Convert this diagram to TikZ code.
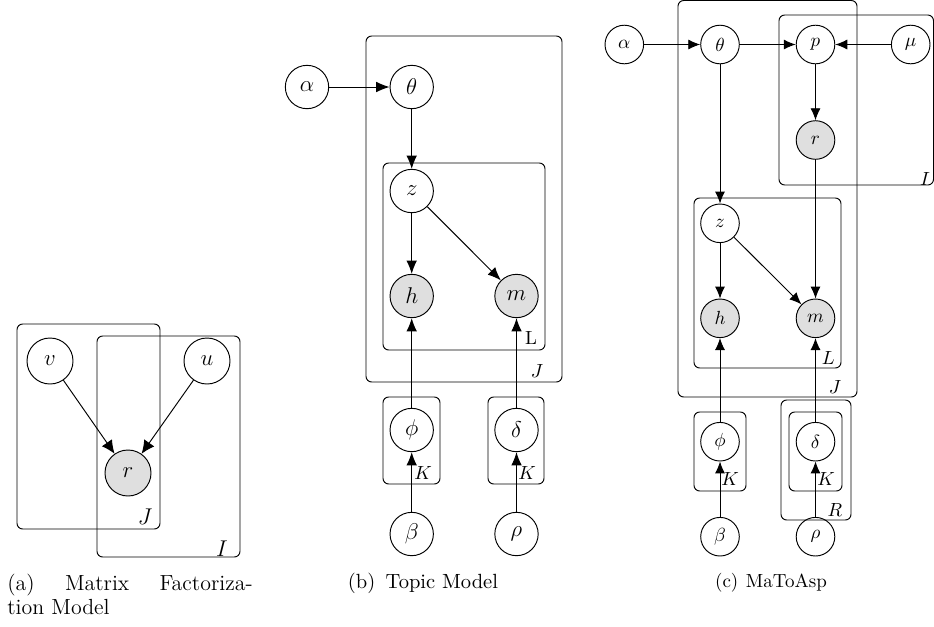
\documentclass[tikz,border=0pt]{standalone}
\usetikzlibrary{arrows.meta}
\begin{document}
\begin{tikzpicture}[x=0.526pt,y=-0.526pt,
  var/.style={circle,draw,line width=0.5pt,inner sep=0pt},
  obs/.style={var,fill=gray!25},
  va/.style={minimum size=24.2pt,font=\fontsize{12.5}{14}\selectfont},
  vb/.style={minimum size=22.8pt,font=\fontsize{12}{14}\selectfont},
  vc/.style={minimum size=20.3pt},
  plate/.style={draw,rounded corners=3pt,line width=0.5pt},
  arra/.style={-{Latex[length=7pt,width=6.5pt]},line width=0.5pt},
  arrb/.style={-{Latex[length=7pt,width=5.6pt]},line width=0.5pt},
  arrc/.style={-{Latex[length=6.3pt,width=5.3pt]},line width=0.5pt},
  lab/.style={inner sep=0pt}]
\useasboundingbox (0,0) rectangle (934,626);

% ---------------- panel (a)
\draw[plate] (17,324) rectangle (160,529);
\draw[plate] (97,336) rectangle (240,557);
\node[var,va] (v) at (50,361) {$v$};
\node[var,va] (u) at (207,361) {$u$};
\node[obs,va] (r) at (128,473) {$r$};
\draw[arra] (v) -- (r);
\draw[arra] (u) -- (r);
\node[lab,font=\fontsize{11.5}{13}\selectfont] (lJa) at (145,517) {$J$};
\node[lab,font=\fontsize{11.5}{13}\selectfont] (lIa) at (222,549) {$I$};
\node[lab,anchor=base west,font=\fontsize{11.5}{13}\selectfont] (capa1) at (7,590) {\hbox to 129pt{(a)\hfill Matrix\hfill Factoriza-}};
\node[lab,anchor=base west,font=\fontsize{11.5}{13}\selectfont] (capa2) at (7,614) {tion Model};

% ---------------- panel (b)
\draw[plate] (366,36) rectangle (562,382);
\draw[plate] (383,163) rectangle (545,350);
\draw[plate] (383,397) rectangle (440,484);
\draw[plate] (488,397) rectangle (544,484);
\node[var,vb] (alb) at (307,87) {$\alpha$};
\node[var,vb] (thb) at (411.7,87) {$\theta$};
\node[var,vb] (zb) at (411.7,191) {$z$};
\node[obs,vb] (hb) at (411.7,296) {$h$};
\node[obs,vb] (mb) at (516.5,296) {$m$};
\node[var,vb] (phb) at (411.7,430) {$\phi$};
\node[var,vb] (deb) at (516.5,430) {$\delta$};
\node[var,vb] (beb) at (411.7,534) {$\beta$};
\node[var,vb] (rhb) at (516.5,534) {$\rho$};
\draw[arrb] (alb) -- (thb);
\draw[arrb] (thb) -- (zb);
\draw[arrb] (zb) -- (hb);
\draw[arrb] (zb) -- (mb);
\draw[arrb] (phb) -- (hb);
\draw[arrb] (deb) -- (mb);
\draw[arrb] (beb) -- (phb);
\draw[arrb] (rhb) -- (deb);
\node[lab] (lLb) at (531,338) {L};
\node[lab] (lJb) at (537,371) {$J$};
\node[lab] (lK1b) at (423,473) {$K$};
\node[lab] (lK2b) at (527,473) {$K$};
\node[lab,anchor=base,font=\fontsize{10.8}{13}\selectfont] (capb) at (423,588) {(b)\hspace{0.5em}Topic Model};

% ---------------- panel (c)
\draw[plate] (678,0.5) rectangle (857,397);
\draw[plate] (779,15) rectangle (933.5,185);
\draw[plate] (694,198) rectangle (841,368);
\draw[plate] (694,412) rectangle (746,491);
\draw[plate] (781,400) rectangle (851,520);
\draw[plate] (789,412) rectangle (842,491);
\node[var,vc] (alc) at (624.3,44.5) {$\alpha$};
\node[var,vc] (thc) at (720,44.5) {$\theta$};
\node[var,vc] (pc) at (815.5,44.5) {$p$};
\node[var,vc] (muc) at (910.7,44.5) {$\mu$};
\node[obs,vc] (rc) at (815.5,140) {$r$};
\node[var,vc] (zc) at (720,223.3) {$z$};
\node[obs,vc] (hc) at (720,318.3) {$h$};
\node[obs,vc] (mc) at (815.5,318.3) {$m$};
\node[var,vc] (phc) at (720,441.7) {$\phi$};
\node[var,vc] (dec) at (815.5,441.7) {$\delta$};
\node[var,vc] (bec) at (720,536.7) {$\beta$};
\node[var,vc] (rhc) at (815.5,536.7) {$\rho$};
\draw[arrc] (alc) -- (thc);
\draw[arrc] (thc) -- (pc);
\draw[arrc] (muc) -- (pc);
\draw[arrc] (pc) -- (rc);
\draw[arrc] (thc) -- (zc);
\draw[arrc] (zc) -- (hc);
\draw[arrc] (zc) -- (mc);
\draw[arrc] (rc) -- (mc);
\draw[arrc] (phc) -- (hc);
\draw[arrc] (dec) -- (mc);
\draw[arrc] (bec) -- (phc);
\draw[arrc] (rhc) -- (dec);
\node[lab] (lIc) at (925,179) {$I$};
\node[lab] (lLc) at (828.3,358.3) {$L$};
\node[lab] (lJc) at (835,386.7) {$J$};
\node[lab] (lK1c) at (730,479.3) {$K$};
\node[lab] (lK2c) at (826,479.3) {$K$};
\node[lab] (lRc) at (835,510) {$R$};
\node[lab,anchor=base] (capc) at (771,587) {(c)\hspace{0.4em}MaToAsp};
\end{tikzpicture}
\end{document}
